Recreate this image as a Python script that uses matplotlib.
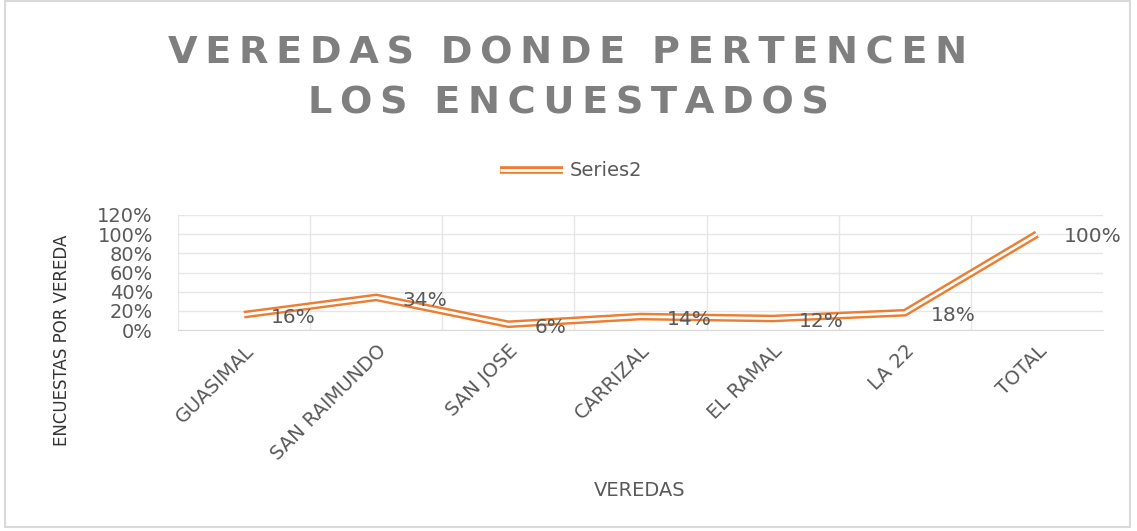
import matplotlib.pyplot as plt
from matplotlib.patches import Rectangle
from matplotlib.lines import Line2D

veredas = ["GUASIMAL", "SAN RAIMUNDO", "SAN JOSE", "CARRIZAL", "EL RAMAL", "LA 22", "TOTAL"]
porcentajes = [16, 34, 6, 14, 12, 18, 100]
y_ticks = [0, 20, 40, 60, 80, 100, 120]

gris = "#595959"
naranja = "#ED7D31"

fig = plt.figure(figsize=(11.37, 5.31), dpi=100)
ax = fig.add_axes([178 / 1137, 1 - 330 / 531, (1103 - 178) / 1137, (330 - 215) / 531])

x = list(range(len(veredas)))
# doble linea: naranja gruesa con blanca encima
ax.plot(x, porcentajes, color=naranja, lw=5.5, solid_joinstyle="miter",
        solid_capstyle="butt", zorder=3)
ax.plot(x, porcentajes, color="white", lw=2.0, solid_joinstyle="miter",
        solid_capstyle="butt", zorder=4)

for xi, v in zip(x, porcentajes):
    ax.annotate(f"{v}%", (xi, v), xytext=(19, -2), textcoords="offset points",
                ha="left", va="center", fontsize=14.5, color=gris, zorder=5)

ax.set_xlim(-0.5, len(veredas) - 0.5)
ax.set_ylim(0, 120)
ax.set_yticks(y_ticks)
ax.set_yticklabels([f"{t}%" for t in y_ticks], fontsize=14, color=gris)
ax.set_xticks([i + 0.5 for i in x[:-1]], minor=True)
ax.set_xticks(x)
ax.set_xticklabels(veredas, rotation=45, ha="right", rotation_mode="anchor",
                   fontsize=14, color=gris)
ax.grid(True, which="major", axis="y", color="#e6e6e6", lw=1)
ax.grid(True, which="minor", axis="x", color="#e6e6e6", lw=1)
ax.tick_params(axis="both", which="both", length=0)
ax.tick_params(axis="y", pad=18)
ax.tick_params(axis="x", pad=8)
for s in ax.spines.values():
    s.set_visible(False)
ax.spines["bottom"].set_visible(True)
ax.spines["bottom"].set_color("#d9d9d9")
ax.spines["left"].set_visible(True)
ax.spines["left"].set_color("#e6e6e6")

fig.text(62 / 1137, 1 - 340 / 531, "ENCUESTAS POR VEREDA", rotation=90, ha="center",
         va="center", fontsize=12, color="#333333")
fig.text(640 / 1137, 1 - 490 / 531, "VEREDAS", ha="center", va="center",
         fontsize=14, color=gris)

ts = "\u2009"
linea1 = "  ".join(ts.join(w) for w in "VEREDAS DONDE PERTENCEN".split())
linea2 = "  ".join(ts.join(w) for w in "LOS ENCUESTADOS".split())
fig.text(568 / 1137, 1 - 53 / 531, linea1,
         ha="center", va="center", fontsize=27.5, fontweight="bold", color="#7f7f7f")
fig.text(568 / 1137, 1 - 104 / 531, linea2,
         ha="center", va="center", fontsize=27.5, fontweight="bold", color="#7f7f7f")

# leyenda
ly = 1 - 170 / 531
fig.add_artist(Line2D([500 / 1137, 563 / 1137], [ly, ly], color=naranja, lw=5.5,
                      solid_capstyle="butt"))
fig.add_artist(Line2D([500 / 1137, 563 / 1137], [ly, ly], color="white", lw=2.0,
                      solid_capstyle="butt"))
fig.text(570 / 1137, ly, "Series2", ha="left", va="center", fontsize=14, color=gris)

fig.add_artist(Rectangle((5 / 1137, 0.008), 1 - 12 / 1137, 0.99, transform=fig.transFigure,
                         fill=False, edgecolor="#d9d9d9", lw=1.5))

fig.savefig("out.png", dpi=100)
